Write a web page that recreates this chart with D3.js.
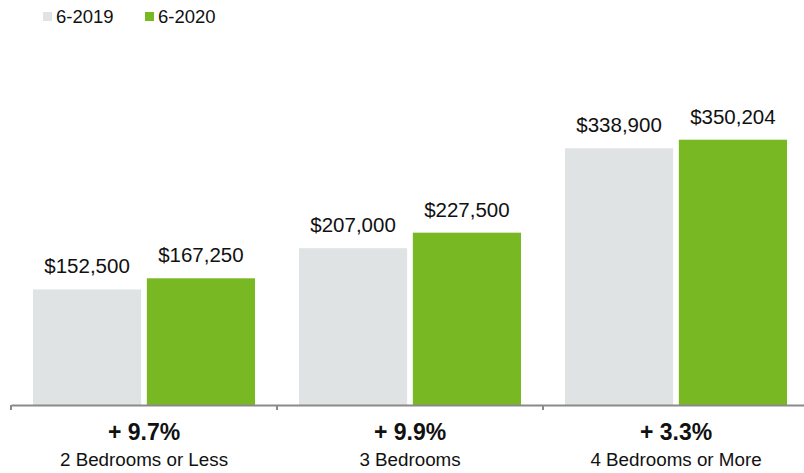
<!DOCTYPE html>
<html>
<head>
<meta charset="utf-8">
<script src="https://cdn.jsdelivr.net/npm/d3@7"></script>
<style>
  html, body { margin: 0; padding: 0; background: #fff; }
  svg { display: block; font-family: "Liberation Sans", Arial, Helvetica, sans-serif; }
</style>
</head>
<body>
<svg id="chart" width="804" height="473"></svg>
<script>
// Median price by bedroom count, June 2019 vs June 2020
const categories = ["2 Bedrooms or Less", "3 Bedrooms", "4 Bedrooms or More"];
const seriesNames = ["6-2019", "6-2020"];
const values2019 = [152500, 207000, 338900];
const values2020 = [167250, 227500, 350204];
const changeLabels = ["+ 9.7%", "+ 9.9%", "+ 3.3%"];
const colors = ["#dfe3e3", "#77b823"];

const svg = d3.select("#chart");
const baseY = 405;

const x0 = d3.scaleBand().domain(categories).range([11, 809]).paddingInner(0).paddingOuter(0);
const x1 = d3.scaleBand().domain(seriesNames).range([22, x0.bandwidth() - 22]).paddingInner(0.05);
const y = d3.scaleLinear().domain([0, 400000]).range([baseY, 102]);

const rows = categories.map((c, i) => ({ cat: c, vals: [values2019[i], values2020[i]] }));
const fmt = d3.format("$,");

const groups = svg.selectAll("g.grp").data(rows).join("g")
  .attr("class", "grp")
  .attr("transform", d => `translate(${x0(d.cat)},0)`);

groups.selectAll("rect").data(d => d.vals.map((v, j) => ({ s: seriesNames[j], v, j })))
  .join("rect")
  .attr("x", d => x1(d.s))
  .attr("y", d => y(d.v))
  .attr("width", x1.bandwidth())
  .attr("height", d => baseY - y(d.v))
  .attr("fill", d => colors[d.j]);

groups.selectAll("text.val").data(d => d.vals.map((v, j) => ({ s: seriesNames[j], v })))
  .join("text")
  .attr("class", "val")
  .attr("x", d => x1(d.s) + x1.bandwidth() / 2)
  .attr("y", d => y(d.v) - 16)
  .attr("text-anchor", "middle")
  .attr("font-size", 20.5)
  .attr("fill", "#111")
  .text(d => fmt(d.v));

// Category axis along the baseline
const axis = d3.axisBottom(x0).tickSize(5).tickFormat("").tickSizeOuter(0);
const axisG = svg.append("g").attr("transform", `translate(0,${baseY})`).call(axis);
axisG.select(".domain").attr("stroke", "#8a8a8a").attr("stroke-width", 2);
axisG.selectAll(".tick").attr("transform", d => `translate(${x0(d)},0)`);
axisG.selectAll(".tick line").attr("stroke", "#8a8a8a").attr("stroke-width", 2);

// Change percentage and category name under each group
const under = svg.selectAll("g.under").data(rows).join("g")
  .attr("class", "under")
  .attr("transform", d => `translate(${x0(d.cat) + x0.bandwidth() / 2},0)`);
under.append("text")
  .attr("y", 440)
  .attr("text-anchor", "middle")
  .attr("font-size", 23)
  .attr("font-weight", "bold")
  .attr("fill", "#111")
  .text((d, i) => changeLabels[i]);
under.append("text")
  .attr("y", 466)
  .attr("text-anchor", "middle")
  .attr("font-size", 18.8)
  .attr("fill", "#111")
  .text(d => d.cat);

// Legend
const legend = svg.append("g").selectAll("g").data(seriesNames).join("g")
  .attr("transform", (d, i) => `translate(${43 + i * 102},0)`);
legend.append("rect").attr("x", 0).attr("y", 12).attr("width", 9).attr("height", 9)
  .attr("fill", (d, i) => colors[i]);
legend.append("text").attr("x", 13).attr("y", 23)
  .attr("font-size", 18.5).attr("fill", "#111").text(d => d);
</script>
</body>
</html>
